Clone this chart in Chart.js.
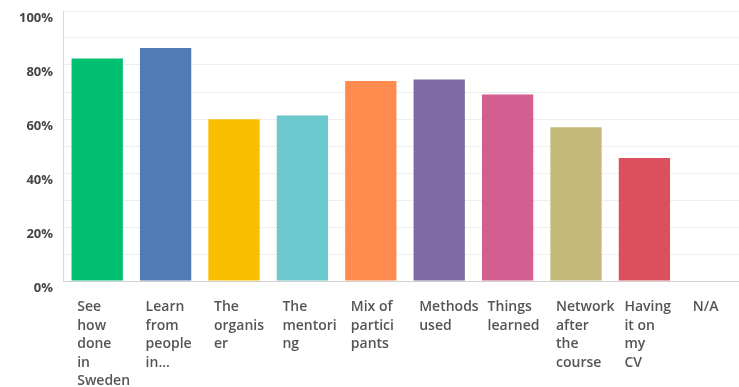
<!DOCTYPE html>
<html>
<head>
<meta charset="utf-8">
<script src="https://cdn.jsdelivr.net/npm/chart.js@4/dist/chart.umd.min.js"></script>
<style>
html, body { margin: 0; padding: 0; background: #fff; overflow: hidden; }
#wrap { width: 747px; height: 387px; }
</style>
</head>
<body>
<div id="wrap"><canvas id="c" width="747" height="387"></canvas></div>
<script>
// answer choices, each split into the lines shown under the bars
var categories = [
	["See", "how", "done", "in", "Sweden"],
	["Learn", "from", "people", "in..."],
	["The", "organis", "er"],
	["The", "mentori", "ng"],
	["Mix of", "partici", "pants"],
	["Methods", "used"],
	["Things", "learned"],
	["Network", "after", "the", "course"],
	["Having", "it on", "my", "CV"],
	["N/A"]
];
var percents = [82.4, 86.3, 59.9, 61.3, 74.1, 74.6, 69.1, 56.9, 45.6, 0];
var barColors = ["#00bf6f", "#507cb6", "#f9be00", "#6bc8cd", "#ff8b4f", "#7f6aa5", "#d25f90", "#c5b97a", "#dc4f5f", "#999999"];
var yTicks = [0, 20, 40, 60, 80, 100];

var labelFont = { family: "'Open Sans', sans-serif", size: 14, weight: 600, lineHeight: 1.32 };

var chart = new Chart(document.getElementById("c"), {
	type: "bar",
	data: {
		labels: categories,
		datasets: [{
			data: percents,
			backgroundColor: barColors,
			barPercentage: 0.75,
			categoryPercentage: 1.0
		}]
	},
	options: {
		responsive: false,
		animation: false,
		layout: { padding: { top: 11, left: 0, right: 0, bottom: 0 } },
		plugins: { legend: { display: false }, tooltip: { enabled: false } },
		scales: {
			x: {
				grid: { display: false, drawTicks: false },
				border: { color: "#d0d0d0", width: 1 },
				ticks: {
					autoSkip: false, maxRotation: 0, minRotation: 0,
					align: "start", labelOffset: -20, padding: 17,
					color: "#555", font: labelFont
				},
				afterFit: function(s) {
					s.height = 106;
					s.paddingLeft = 0; s.paddingRight = 0;
				}
			},
			y: {
				min: 0, max: 100,
				grid: { color: "#efefef", drawTicks: false },
				border: { color: "#d8d8d8", width: 1 },
				ticks: {
					stepSize: 10, padding: 10, labelOffset: 7,
					color: "#444", font: { family: "'Open Sans', sans-serif", size: 13, weight: 700 },
					callback: function(v) { return yTicks.indexOf(v) >= 0 ? v + "%" : ""; }
				},
				afterFit: function(s) {
					s.width = 63;
					s.paddingTop = 0; s.paddingBottom = 0;
				}
			}
		}
	}
});
</script>
</body>
</html>
